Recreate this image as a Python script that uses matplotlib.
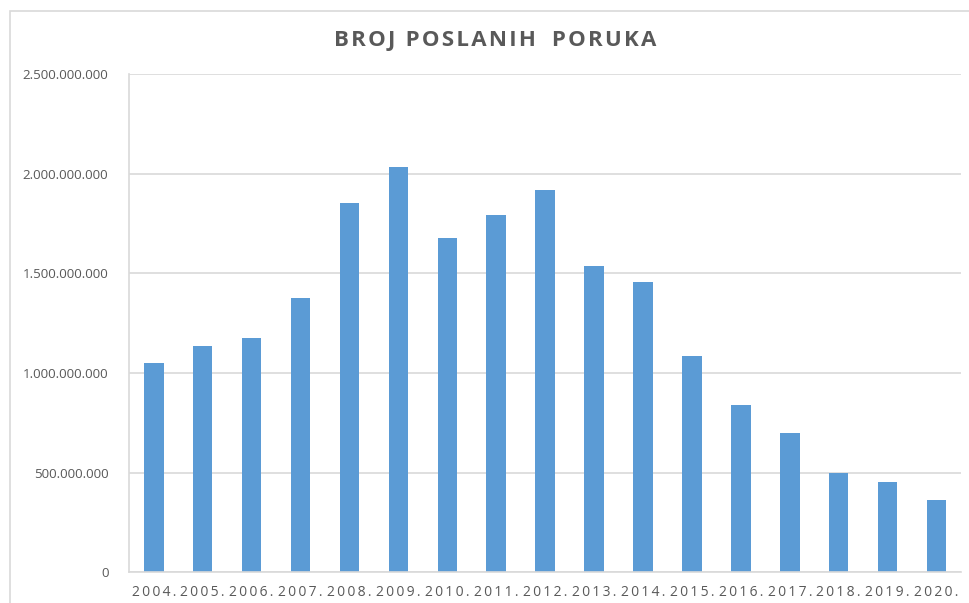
import matplotlib.pyplot as plt
from matplotlib.patches import Rectangle
from matplotlib.ticker import FuncFormatter

# Data
years = ['2004', '2005', '2006', '2007', '2008', '2009', '2010', '2011', '2012',
         '2013', '2014', '2015', '2016', '2017', '2018', '2019', '2020']
messages = [1049e6, 1137e6, 1176e6, 1378e6, 1853e6, 2032e6, 1679e6, 1793e6, 1918e6,
            1537e6, 1457e6, 1086e6, 840e6, 700e6, 497e6, 452e6, 364e6]
y_ticks = [0, 500e6, 1000e6, 1500e6, 2000e6, 2500e6]

grey_text = '#595959'
grid_col = '#D9D9D9'
bar_col = '#5B9BD5'

plt.rcParams['font.family'] = ['Open Sans', 'DejaVu Sans']

fig = plt.figure(figsize=(9.7, 6.03), dpi=100)
ax = fig.add_axes([0.1333, 0.0506, 0.8574, 0.8267])

# outer chart frame (right/bottom edges fall outside the picture)
fig.patches.append(Rectangle((10 / 970, -0.1), 2, 1 - 11 / 603 + 0.1,
                             transform=fig.transFigure, fill=False,
                             edgecolor=grid_col, linewidth=1.2))

x = range(len(years))
ax.bar(x, messages, width=0.4, color=bar_col, zorder=2)

ax.set_xlim(-0.5, len(years) - 0.5)
ax.set_ylim(0, 2500e6)
ax.set_yticks(y_ticks)
ax.yaxis.set_major_formatter(FuncFormatter(lambda v, p: f'{int(v):,}'.replace(',', '.')))
ax.grid(axis='y', color=grid_col, linewidth=1.2, zorder=0)

spaced = ['\u2009'.join(y + '.') for y in years]
ax.set_xticks(list(x))
ax.set_xticklabels(spaced)

for s in ['top', 'right']:
    ax.spines[s].set_visible(False)
for s in ['left', 'bottom']:
    ax.spines[s].set_color(grid_col)
    ax.spines[s].set_linewidth(1.2)

ax.tick_params(axis='both', length=0, colors=grey_text, labelsize=10)
ax.tick_params(axis='y', labelsize=9.6, pad=15)
ax.tick_params(axis='x', pad=9)

title = '\u200a'.join('BROJ POSLANIH') + ' \u2009 ' + '\u200a'.join('PORUKA')
fig.text(0.511, 0.933, title, ha='center', va='center',
         fontsize=16, fontweight='bold', color=grey_text)

fig.savefig('out.png', dpi=100)
